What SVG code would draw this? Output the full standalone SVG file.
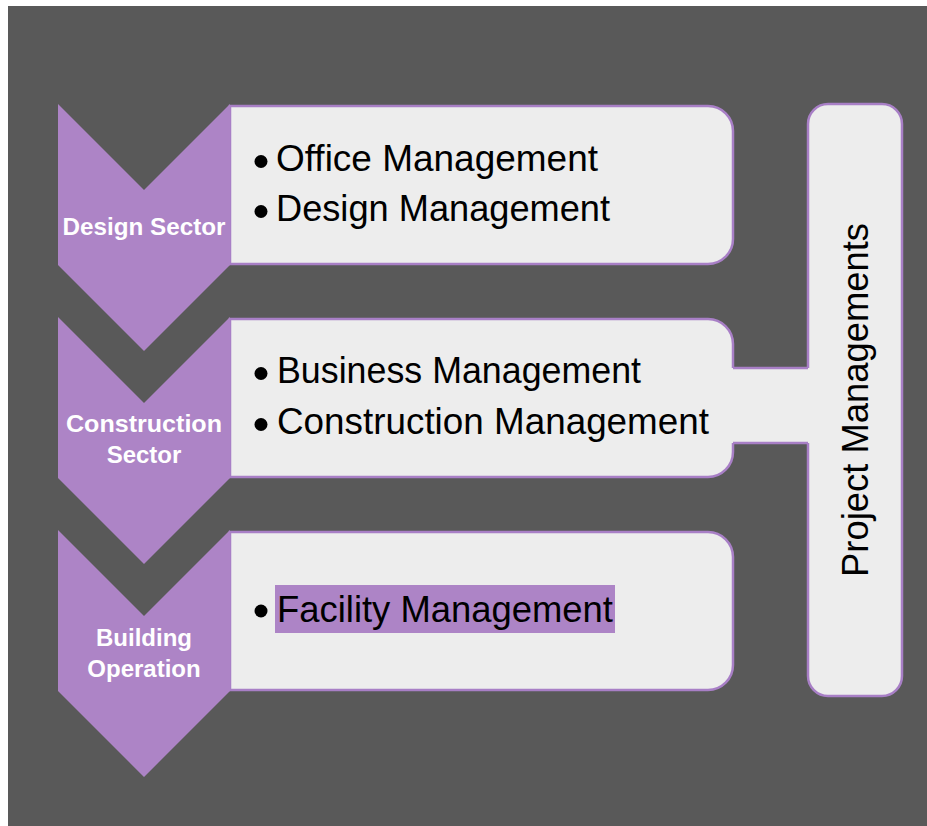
<svg xmlns="http://www.w3.org/2000/svg" width="927" height="826" viewBox="0 0 927 826">
<style>
.bg{fill:#595959}
.box{fill:#EDEDED;stroke:#A87FC6;stroke-width:2.5}
.chev{fill:#AD84C6}
.lbl{font-family:"Liberation Sans",Arial,sans-serif;font-weight:bold;font-size:24px;fill:#FFFFFF;text-anchor:middle}
.item{font-family:"Liberation Sans",Arial,sans-serif;font-size:37px;fill:#000000}
.dot{fill:#000000}
.hl{fill:#AD84C6}
.conn{stroke:#A87FC6;stroke-width:2.5;fill:none}
</style>
<rect x="0" y="0" width="927" height="826" fill="#FFFFFF"/>
<rect class="bg" x="8" y="6" width="919" height="820"/>

<g id="node-design">
<path class="box" d="M230,106 H708 A25,25 0 0 1 733,131 V239 A25,25 0 0 1 708,264 H230 Z"/>
<polygon class="chev" points="58,104 144,190 230,104 230,265 144,351 58,265"/>
<text class="lbl" x="144" y="235" textLength="163" lengthAdjust="spacingAndGlyphs">Design Sector</text>
<circle class="dot" cx="261" cy="161.5" r="6.5"/>
<text class="item" x="276" y="171" textLength="322" lengthAdjust="spacingAndGlyphs">Office Management</text>
<circle class="dot" cx="261" cy="211.5" r="6.5"/>
<text class="item" x="276" y="221" textLength="334" lengthAdjust="spacingAndGlyphs">Design Management</text>
</g>

<g id="node-construction">
<path class="box" d="M230,319 H708 A25,25 0 0 1 733,344 V452 A25,25 0 0 1 708,477 H230 Z"/>
<polygon class="chev" points="58,317 144,403 230,317 230,478 144,564 58,478"/>
<text class="lbl" x="144" y="432" textLength="156" lengthAdjust="spacingAndGlyphs">Construction</text>
<text class="lbl" x="144" y="463">Sector</text>
<circle class="dot" cx="261" cy="373.5" r="6.5"/>
<text class="item" x="277" y="383" textLength="364" lengthAdjust="spacingAndGlyphs">Business Management</text>
<circle class="dot" cx="261" cy="424.5" r="6.5"/>
<text class="item" x="277" y="434" textLength="432" lengthAdjust="spacingAndGlyphs">Construction Management</text>
</g>

<g id="node-operation">
<path class="box" d="M230,532 H708 A25,25 0 0 1 733,557 V665 A25,25 0 0 1 708,690 H230 Z"/>
<polygon class="chev" points="58,530 144,616 230,530 230,691 144,777 58,691"/>
<text class="lbl" x="144" y="646">Building</text>
<text class="lbl" x="144" y="677">Operation</text>
<circle class="dot" cx="261" cy="611" r="6.5"/>
<rect class="hl" x="275" y="585" width="340" height="48"/>
<text class="item" x="277" y="622" textLength="336" lengthAdjust="spacingAndGlyphs">Facility Management</text>
</g>

<g id="node-project">
<rect class="box" x="808" y="104" width="94" height="592" rx="20" ry="20"/>
<text class="item" transform="translate(868,400) rotate(-90)" text-anchor="middle" textLength="354" lengthAdjust="spacingAndGlyphs">Project Managements</text>
</g>

<g id="connectors">
<rect x="731" y="368" width="79" height="75" fill="#EDEDED"/>
<line class="conn" x1="733" y1="368" x2="808" y2="368"/>
<line class="conn" x1="733" y1="443" x2="808" y2="443"/>
</g>
</svg>
